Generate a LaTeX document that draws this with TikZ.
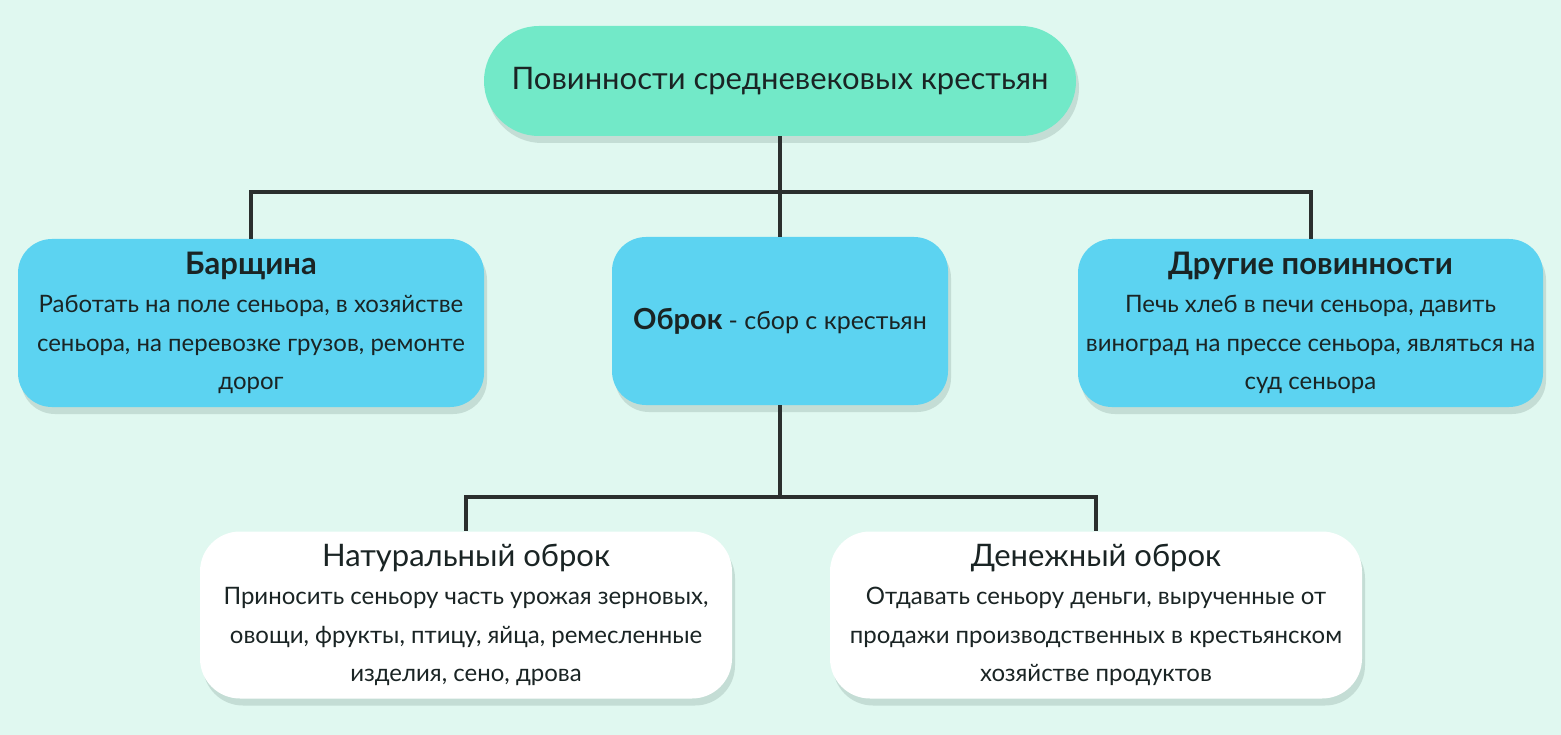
\documentclass[tikz,border=0pt]{standalone}
\usepackage{fontspec}
\setmainfont{Lato}
\usetikzlibrary{shadows,backgrounds}
\definecolor{bgmint}{HTML}{E0F8F0}
\definecolor{topmint}{HTML}{72E9C8}
\definecolor{skyblue}{HTML}{5CD3F1}
\definecolor{shadowgray}{HTML}{C4DDD5}
\definecolor{textdark}{HTML}{1A2424}
\definecolor{linedark}{HTML}{2B2F2E}
\newcommand{\headfont}{\fontsize{31pt}{39pt}\selectfont\bfseries}
\newcommand{\bodyfont}{\fontsize{24pt}{38.5pt}\selectfont}

\tikzset{
  box/.style={rounded corners=34pt, align=center, text=textdark, font=\bodyfont,
    inner sep=0pt, drop shadow={shadow xshift=3pt, shadow yshift=-7pt, fill=shadowgray, opacity=1}},
  topbox/.style={box, fill=topmint, minimum width=592pt, minimum height=110pt, rounded corners=55pt},
  bluebox/.style={box, fill=skyblue, minimum height=168pt},
  whitebox/.style={box, fill=white, minimum width=532pt, minimum height=167pt, rounded corners=40pt},
  tree/.style={draw=linedark, line width=4pt},
}

\begin{document}
\begin{tikzpicture}[x=1pt,y=-1pt]
  % duties
  \node[topbox, font=\fontsize{31pt}{36pt}\selectfont] (duty) at (780,81) {Повинности средневековых крестьян};
  \node[bluebox, minimum width=466pt] (corvee) at (251,323)
    {{\headfont Барщина}\\Работать на поле сеньора, в хозяйстве\\сеньора, на перевозке грузов, ремонте\\дорог};
  \node[bluebox, minimum width=336pt] (rent) at (780,321)
    {{\fontsize{29pt}{36pt}\selectfont\bfseries Оброк} {\fontsize{25pt}{36pt}\selectfont - сбор с крестьян}};
  \node[bluebox, minimum width=465pt] (other) at (1310.5,323)
    {{\headfont Другие повинности}\\Печь хлеб в печи сеньора, давить\\виноград на прессе сеньора, являться на\\суд сеньора};
  % kinds of rent
  \node[whitebox] (kind) at (466,615)
    {{\headfont\mdseries Натуральный оброк}\\Приносить сеньору часть урожая зерновых,\\овощи, фрукты, птицу, яйца, ремесленные\\изделия, сено, дрова};
  \node[whitebox] (money) at (1096,615)
    {{\headfont\mdseries Денежный оброк}\\Отдавать сеньору деньги, вырученные от\\продажи производственных в крестьянском\\хозяйстве продуктов};

  \coordinate (hubtop) at (780,192);
  \coordinate (hubrent) at (780,497);
  \draw[tree] (duty) -- (hubtop);
  \draw[tree] (hubtop) -| (corvee);
  \draw[tree] (hubtop) -- (rent);
  \draw[tree] (hubtop) -| (other);
  \draw[tree] (rent) -- (hubrent);
  \draw[tree] (hubrent) -| (kind);
  \draw[tree] (hubrent) -| (money);

  \begin{scope}[on background layer]
    \fill[bgmint] (0,0) rectangle (1561,735);
  \end{scope}
\end{tikzpicture}
\end{document}
